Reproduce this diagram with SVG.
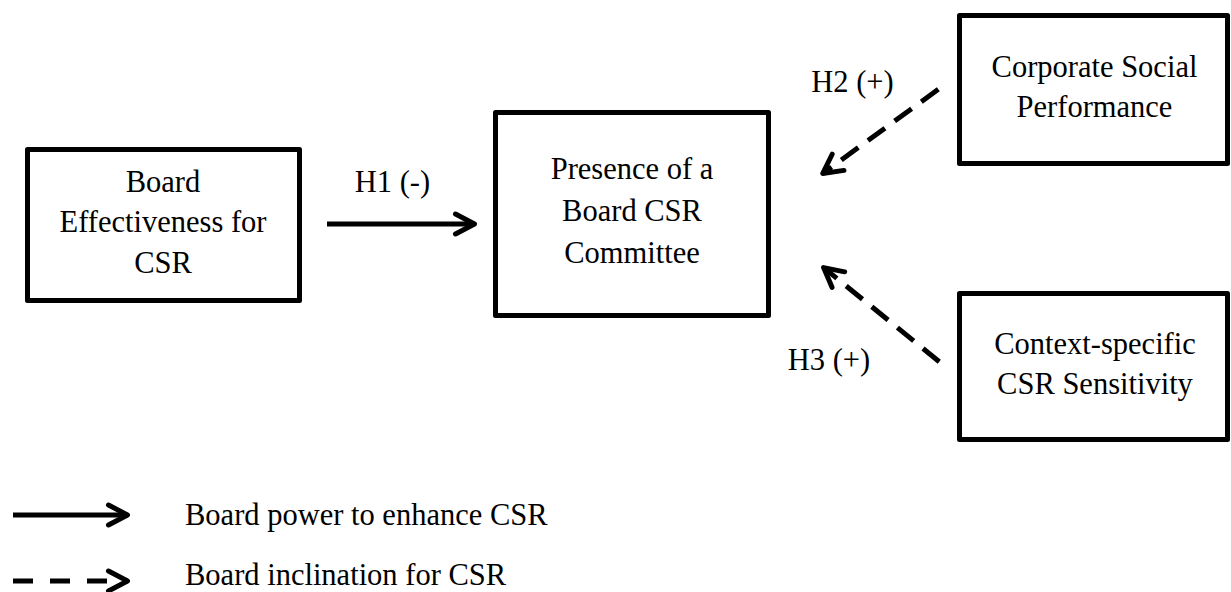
<svg xmlns="http://www.w3.org/2000/svg" width="1231" height="592" viewBox="0 0 1231 592">
<style>
  .box { fill: #fff; stroke: #000; stroke-width: 5; stroke-linejoin: round; }
  text { font-family: "Liberation Serif", "Times New Roman", serif; font-size: 30.5px; fill: #000; }
  .c { text-anchor: middle; }
  .solid { fill: none; stroke: #000; stroke-width: 5; marker-end: url(#chev); }
  .dash { fill: none; stroke: #000; stroke-width: 5; stroke-dasharray: 21 12; marker-end: url(#chev); }
</style>
<defs>
  <marker id="chev" markerUnits="userSpaceOnUse" orient="auto" overflow="visible" markerWidth="1" markerHeight="1" refX="0" refY="0">
    <path d="M-19,-10 L0,0 L-19,10" fill="none" stroke="#000" stroke-width="5" stroke-linecap="round" stroke-linejoin="round"/>
  </marker>
</defs>
<rect width="1231" height="592" fill="#fff"/>

<g id="node-board-effectiveness">
  <rect class="box" x="27.5" y="149.5" width="272" height="151"/>
  <text class="c" x="163" y="192">Board</text>
  <text class="c" x="163" y="232">Effectiveness for</text>
  <text class="c" x="163" y="273">CSR</text>
</g>

<g id="node-board-csr-committee">
  <rect class="box" x="495.5" y="112.5" width="273" height="203"/>
  <text class="c" x="632" y="179">Presence of a</text>
  <text class="c" x="632" y="221">Board CSR</text>
  <text class="c" x="632" y="263">Committee</text>
</g>

<g id="node-csp">
  <rect class="box" x="959.5" y="15.5" width="268" height="148"/>
  <text class="c" x="1094.5" y="77">Corporate Social</text>
  <text class="c" x="1094.5" y="117">Performance</text>
</g>

<g id="node-csr-sensitivity">
  <rect class="box" x="959.5" y="293.5" width="268" height="146"/>
  <text class="c" x="1095" y="354">Context-specific</text>
  <text class="c" x="1095" y="394">CSR Sensitivity</text>
</g>

<g id="connectors">
  <line class="solid" x1="327" y1="224" x2="474.5" y2="224"/>
  <line class="dash" x1="938.3" y1="89.3" x2="822.7" y2="173.5"/>
  <line class="dash" x1="939.3" y1="361.7" x2="823.6" y2="267.6"/>
  <text class="c" x="392.5" y="192">H1 (-)</text>
  <text class="c" x="852.5" y="92">H2 (+)</text>
  <text class="c" x="829" y="370">H3 (+)</text>
</g>

<g id="legend">
  <line class="solid" x1="13" y1="515" x2="127.5" y2="515"/>
  <text x="185" y="525">Board power to enhance CSR</text>
  <line class="dash" x1="13" y1="581" x2="127.5" y2="581" style="stroke-dasharray: 20 17"/>
  <text x="185" y="585">Board inclination for CSR</text>
</g>
</svg>
